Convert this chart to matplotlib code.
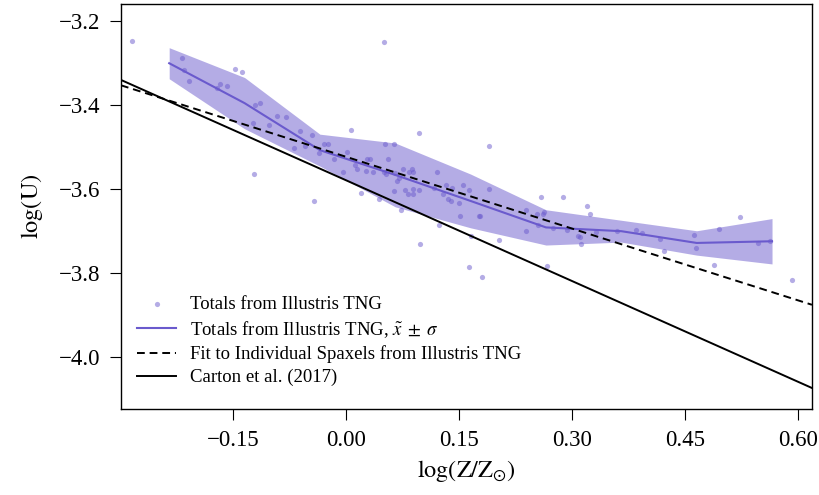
import matplotlib
matplotlib.use("Agg")
import matplotlib.pyplot as plt
import numpy as np

plt.rcParams['font.family'] = 'serif'
plt.rcParams['font.serif'] = ['Liberation Serif', 'DejaVu Serif']
plt.rcParams['mathtext.fontset'] = 'stix'

# binned medians and spread (log Z/Zsun bins)
bin_x = [-0.235, -0.135, -0.035, 0.065, 0.165, 0.265, 0.365, 0.465, 0.565]
bin_med = [-3.301, -3.396, -3.508, -3.567, -3.629, -3.692, -3.701, -3.729, -3.725]
bin_sig = [0.037, 0.061, 0.038, 0.076, 0.064, 0.042, 0.026, 0.029, 0.054]

# totals per galaxy
tot_x = [-0.284, -0.218, -0.215, -0.209, -0.148, -0.139, -0.167, -0.171, -0.158,
         -0.121, -0.115, -0.124, -0.092, -0.080, -0.103, -0.061, -0.045, -0.070,
         -0.055, -0.122, -0.043, -0.030, -0.024, -0.036, -0.016, 0.001, -0.004,
         0.006, 0.012, 0.014, 0.050, 0.097, 0.190, 0.051, 0.064, 0.056, 0.028,
         0.031, 0.026, 0.035, 0.050, 0.053, 0.065, 0.075, 0.083, 0.087, 0.089,
         0.070, 0.067, 0.120, 0.020, 0.043, 0.064, 0.073, 0.078, 0.082, 0.089,
         0.089, 0.097, 0.098, 0.116, 0.123, 0.132, 0.140, 0.129, 0.135, 0.139,
         0.149, 0.155, 0.163, 0.151, 0.176, 0.178, 0.166, 0.163, 0.180, 0.190,
         0.203, 0.238, 0.258, 0.253, 0.261, 0.263, 0.255, 0.238, 0.288, 0.267,
         0.275, 0.293, 0.308, 0.319, 0.324, 0.310, 0.311, 0.332, 0.359, 0.385,
         0.392, 0.416, 0.421, 0.461, 0.464, 0.495, 0.523, 0.488, 0.547, 0.562,
         0.591]
tot_y = [-3.247, -3.288, -3.316, -3.344, -3.315, -3.321, -3.350, -3.361, -3.356,
         -3.401, -3.395, -3.444, -3.427, -3.430, -3.449, -3.463, -3.473, -3.502,
         -3.499, -3.566, -3.628, -3.493, -3.494, -3.514, -3.530, -3.512, -3.559,
         -3.459, -3.544, -3.552, -3.250, -3.468, -3.499, -3.494, -3.493, -3.528,
         -3.530, -3.529, -3.558, -3.560, -3.560, -3.564, -3.563, -3.554, -3.560,
         -3.554, -3.560, -3.575, -3.582, -3.561, -3.610, -3.625, -3.606, -3.651,
         -3.603, -3.613, -3.601, -3.612, -3.603, -3.732, -3.599, -3.687, -3.590,
         -3.597, -3.613, -3.625, -3.629, -3.633, -3.591, -3.603, -3.666, -3.664,
         -3.665, -3.713, -3.786, -3.811, -3.601, -3.723, -3.651, -3.620, -3.661,
         -3.659, -3.656, -3.686, -3.701, -3.619, -3.784, -3.693, -3.697, -3.712,
         -3.641, -3.660, -3.714, -3.732, -3.702, -3.701, -3.698, -3.705, -3.719,
         -3.749, -3.711, -3.740, -3.696, -3.668, -3.782, -3.728, -3.725, -3.818]

# linear relations: slope, intercept
fit_coef = [-0.57, -3.524]
carton_coef = [-0.80, -3.58]

xlim = (-0.299, 0.618)
ylim = (-4.1245, -3.160)

col = 'slateblue'


def minus_fmt(fmt):
    return matplotlib.ticker.FuncFormatter(lambda v, p: (fmt % v).replace('-', '\u2212'))


fig = plt.figure(figsize=(8.19, 4.95), dpi=100)
ax = fig.add_axes([0.1477, 0.1737, 0.8437, 0.8182])

ax.scatter(tot_x, tot_y, s=14, color=col, alpha=0.5, lw=0,
           label='Totals from Illustris TNG', zorder=2)

med = np.array(bin_med)
sig = np.array(bin_sig)
ax.fill_between(bin_x, med - sig, med + sig, color=col, alpha=0.5, lw=0, zorder=1)
ax.plot(bin_x, med, color=col, lw=1.5,
        label=r'Totals from Illustris TNG, $\tilde{x}\;\pm\;\sigma$', zorder=3)

xx = np.array(xlim)
ax.plot(xx, fit_coef[0] * xx + fit_coef[1], color='k', ls='--', lw=1.4,
        dashes=(4, 2.5), label='Fit to Individual Spaxels from Illustris TNG', zorder=4)
ax.plot(xx, carton_coef[0] * xx + carton_coef[1], color='k', lw=1.4,
        label='Carton et al. (2017)', zorder=4)

ax.set_xlim(*xlim)
ax.set_ylim(*ylim)
ax.set_xticks([-0.15, 0.0, 0.15, 0.30, 0.45, 0.60])
ax.set_yticks([-4.0, -3.8, -3.6, -3.4, -3.2])
ax.xaxis.set_major_formatter(minus_fmt('%.2f'))
ax.yaxis.set_major_formatter(minus_fmt('%.1f'))
ax.tick_params(direction='out', length=8, width=0.8, labelsize=16.5, pad=7)
for s in ax.spines.values():
    s.set_linewidth(1.0)

ax.set_xlabel(r'$\log(\mathrm{Z}/\mathrm{Z}_{\odot})$', fontsize=17.5, labelpad=5)
ax.set_ylabel(r'$\log(\mathrm{U})$', fontsize=17.5, labelpad=10)

ax.legend(loc='lower left', bbox_to_anchor=(-0.004, 0.01), frameon=False,
          fontsize=13.5, handlelength=2.1, handletextpad=0.75,
          labelspacing=0.3, borderaxespad=0.6)

fig.savefig('out.png', dpi=100)
